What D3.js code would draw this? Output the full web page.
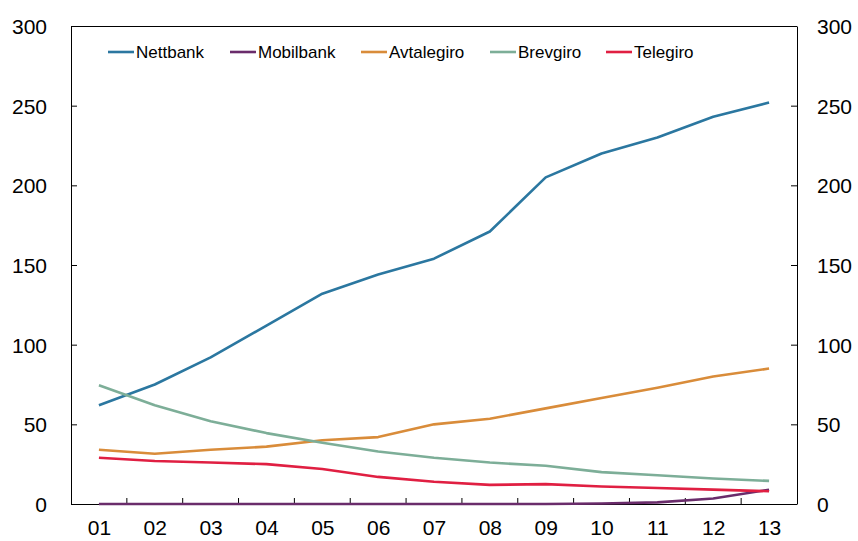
<!DOCTYPE html>
<html>
<head>
<meta charset="utf-8">
<script src="https://cdn.jsdelivr.net/npm/d3@7"></script>
<style>
  body { margin: 0; background: #fff; }
  svg { display: block; font-family: "Liberation Sans", Arial, Helvetica, sans-serif; }
</style>
</head>
<body>
<div class="chart"></div>
<script>
// years (x-axis tick labels)
const years = ["01", "02", "03", "04", "05", "06", "07", "08", "09", "10", "11", "12", "13"];
const yTicks = [0, 50, 100, 150, 200, 250, 300];

// series values
const nettbank   = [62, 75, 92, 112, 132, 144, 154, 171, 205, 220, 230, 243, 252];
const mobilbank  = [0, 0, 0, 0, 0, 0, 0, 0, 0, 0.3, 1, 3.5, 9];
const avtalegiro = [34, 31.5, 34, 36, 40, 42, 50, 53.5, 60, 66.5, 73, 80, 85];
const brevgiro   = [74.5, 62, 52, 44.5, 38.5, 33, 29, 26, 24, 20, 18, 16, 14.5];
const telegiro   = [29, 27, 26, 25, 22, 17, 14, 12, 12.5, 11, 10, 9, 8];

const seriesNames = ["Nettbank", "Mobilbank", "Avtalegiro", "Brevgiro", "Telegiro"];
const seriesColors = ["#2b77a0", "#6a2c6b", "#d98c3a", "#7dae98", "#e01f42"];
const seriesValues = [nettbank, mobilbank, avtalegiro, brevgiro, telegiro];

const W = 858, H = 541;
const plotL = 71, plotR = 797, plotT = 26, plotB = 504;

const svg = d3.select(".chart").append("svg")
  .attr("width", W)
  .attr("height", H);

const xBand = d3.scaleBand().domain(years).range([plotL, plotR]);
const x = d3.scalePoint().domain(years).range([plotL, plotR]).padding(0.5);
const y = d3.scaleLinear().domain([0, 300]).range([plotB, plotT]);

// frame (top line)
svg.append("line")
  .attr("x1", plotL).attr("x2", plotR)
  .attr("y1", plotT + 0.5).attr("y2", plotT + 0.5)
  .attr("stroke", "#000").attr("stroke-width", 1);

// left axis
const yLeft = svg.append("g")
  .attr("transform", `translate(${plotL},0)`)
  .call(d3.axisLeft(y).tickValues(yTicks).tickSize(-6).tickSizeOuter(0).tickPadding(24));

// right axis
const yRight = svg.append("g")
  .attr("transform", `translate(${plotR},0)`)
  .call(d3.axisRight(y).tickValues(yTicks).tickSize(-6).tickSizeOuter(0).tickPadding(20));

// bottom axis: labels at points, ticks at band edges
const xAxis = svg.append("g")
  .attr("transform", `translate(0,${plotB})`)
  .call(d3.axisBottom(x).tickSize(0).tickPadding(16));
xAxis.select(".domain").attr("d", `M${plotL},0.5H${plotR}`);

xAxis.selectAll(".edge")
  .data(years.slice(1))
  .enter().append("line")
  .attr("class", "edge")
  .attr("x1", d => xBand(d)).attr("x2", d => xBand(d))
  .attr("y1", 0).attr("y2", -6)
  .attr("stroke", "#000");

[yLeft, yRight, xAxis].forEach(g => {
  g.select(".domain").attr("stroke", "#000");
  g.selectAll("text").attr("font-size", 21).attr("fill", "#000")
    .attr("font-family", "'Liberation Sans', Arial, sans-serif");
  g.selectAll(".tick line").attr("stroke", "#000");
});
yLeft.selectAll(".tick text").attr("dy", "0.36em");
yRight.selectAll(".tick text").attr("dy", "0.36em");

// lines
const line = d3.line()
  .x((d, i) => x(years[i]))
  .y(d => y(d));

seriesValues.forEach((vals, i) => {
  svg.append("path")
    .datum(vals)
    .attr("fill", "none")
    .attr("stroke", seriesColors[i])
    .attr("stroke-width", 2.6)
    .attr("stroke-linejoin", "round")
    .attr("d", line);
});

// legend
const legendX = [108, 230, 361, 490, 606];
const legend = svg.append("g");
seriesNames.forEach((name, i) => {
  legend.append("line")
    .attr("x1", legendX[i]).attr("x2", legendX[i] + 26)
    .attr("y1", 52).attr("y2", 52)
    .attr("stroke", seriesColors[i])
    .attr("stroke-width", 2.6);
  legend.append("text")
    .attr("x", legendX[i] + 28)
    .attr("y", 58)
    .attr("font-size", 17)
    .attr("fill", "#000")
    .text(name);
});
</script>
</body>
</html>
